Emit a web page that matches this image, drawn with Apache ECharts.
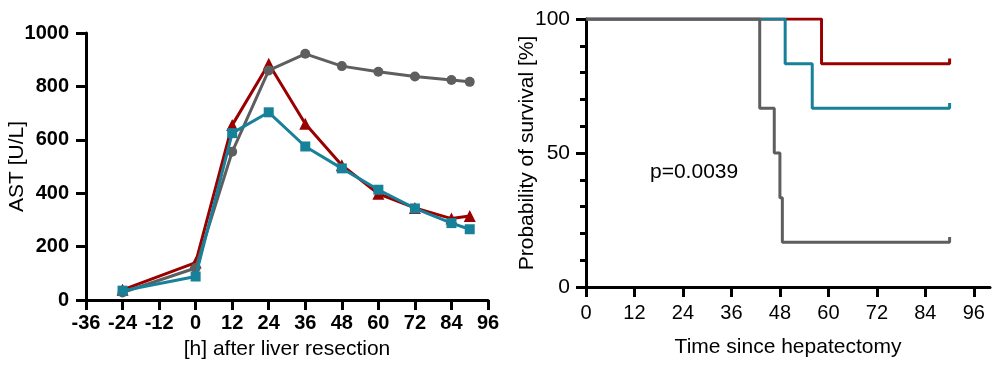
<!DOCTYPE html>
<html><head><meta charset="utf-8">
<script src="https://cdn.jsdelivr.net/npm/echarts@6/dist/echarts.min.js"></script>
<style>html,body{margin:0;padding:0;background:#fff}#c{width:1000px;height:371px}</style>
</head><body><div id="c"></div>
<script>
// Left panel: AST time course
const hours = [-24, 0, 12, 24, 36, 48, 60, 72, 84, 90];
const astRed  = [38, 140, 655, 885, 660, 505, 398, 345, 305, 315];
const astGray = [28, 120, 555, 860, 922, 876, 855, 837, 824, 817];
const astTeal = [35, 88, 625, 703, 575, 493, 413, 343, 288, 265];
const leftXTicks = [-36, -24, -12, 0, 12, 24, 36, 48, 60, 72, 84, 96];
// Right panel: Kaplan-Meier survival (time, survival %)
const kmRed  = [[0, 100], [58.3, 83.3], [90, 83.3], [90, 85.3]];
const kmTeal = [[0, 100], [49.3, 83.3], [56, 66.7], [90, 66.7], [90, 68.7]];
const kmGray = [[0, 100], [43, 66.7], [46.6, 50], [48, 33.3], [48.6, 16.7], [90, 16.7], [90, 18.7]];
const rightXTicks = [0, 12, 24, 36, 48, 60, 72, 84, 96];
const pText = 'p=0.0039';

const RED = '#9a0000', TEAL = '#17819a', GRAY = '#5e5e5e';
const FONT = 'Liberation Sans, Arial, sans-serif';
const chart = echarts.init(document.getElementById('c'));
const axisLine = {show: true, onZero: false, lineStyle: {color: '#000', width: 3}};
const nameStyle = {color: '#000', fontFamily: FONT, fontSize: 21};
chart.setOption({
  animation: false,
  grid: [
    {left: 86, top: 33, width: 402, height: 267},
    {left: 586, top: 19, width: 404, height: 268}
  ],
  xAxis: [
    {gridIndex: 0, type: 'value', min: -36, max: 96, interval: 12,
     axisLine: axisLine, splitLine: {show: false},
     axisTick: {show: true, length: 10, lineStyle: {color: '#000', width: 3}},
     axisLabel: {color: '#000', fontFamily: FONT, fontSize: 20, fontWeight: 'bold', margin: 13},
     name: '[h] after liver resection', nameLocation: 'middle', nameGap: 39, nameMoveOverlap: false,
     nameTextStyle: nameStyle},
    {gridIndex: 1, type: 'value', min: 0, max: 100, interval: 12,
     axisLine: axisLine, splitLine: {show: false},
     axisTick: {show: true, length: 10, customValues: rightXTicks, lineStyle: {color: '#000', width: 3}},
     axisLabel: {color: '#000', fontFamily: FONT, fontSize: 20, margin: 16, customValues: rightXTicks},
     name: 'Time since hepatectomy', nameLocation: 'middle', nameGap: 50, nameMoveOverlap: false,
     nameTextStyle: nameStyle}
  ],
  yAxis: [
    {gridIndex: 0, type: 'value', min: 0, max: 1000, interval: 200,
     axisLine: axisLine, splitLine: {show: false},
     axisTick: {show: true, length: 10, lineStyle: {color: '#000', width: 3}},
     axisLabel: {color: '#000', fontFamily: FONT, fontSize: 20, fontWeight: 'bold', margin: 17,
                 formatter: v => String(v)},
     name: 'AST [U/L]', nameLocation: 'middle', nameGap: 58, nameRotate: 90, nameMoveOverlap: false,
     nameTextStyle: nameStyle},
    {gridIndex: 1, type: 'value', min: 0, max: 100, interval: 50,
     axisLine: axisLine, splitLine: {show: false},
     axisTick: {show: true, length: 10, lineStyle: {color: '#000', width: 3}},
     minorTick: {show: true, splitNumber: 5, length: 6, lineStyle: {color: '#000', width: 3}},
     axisLabel: {color: '#000', fontFamily: FONT, fontSize: 21, margin: 16},
     name: 'Probability of survival [%]', nameLocation: 'middle', nameGap: 48, nameRotate: 90,
     nameMoveOverlap: false, nameTextStyle: nameStyle}
  ],
  series: [
    {type: 'line', xAxisIndex: 0, yAxisIndex: 0, data: hours.map((h, i) => [h, astRed[i]]),
     symbol: 'triangle', symbolSize: 12, itemStyle: {color: RED}, lineStyle: {color: RED, width: 3}, z: 2},
    {type: 'line', xAxisIndex: 0, yAxisIndex: 0, data: hours.map((h, i) => [h, astGray[i]]),
     symbol: 'circle', symbolSize: 10, itemStyle: {color: GRAY}, lineStyle: {color: GRAY, width: 3}, z: 3},
    {type: 'line', xAxisIndex: 0, yAxisIndex: 0, data: hours.map((h, i) => [h, astTeal[i]]),
     symbol: 'rect', symbolSize: 10, itemStyle: {color: TEAL}, lineStyle: {color: TEAL, width: 3}, z: 4},
    {type: 'line', xAxisIndex: 1, yAxisIndex: 1, data: kmRed, step: 'end', showSymbol: false,
     lineStyle: {color: RED, width: 3}, z: 2},
    {type: 'line', xAxisIndex: 1, yAxisIndex: 1, data: kmTeal, step: 'end', showSymbol: false,
     lineStyle: {color: TEAL, width: 3}, z: 3},
    {type: 'line', xAxisIndex: 1, yAxisIndex: 1, data: kmGray, step: 'end', showSymbol: false,
     lineStyle: {color: GRAY, width: 3}, z: 4}
  ],
  graphic: [
    {type: 'text', left: 650, top: 162, style: {text: pText, fill: '#000', font: '21px ' + FONT}}
  ]
});
</script></body></html>
